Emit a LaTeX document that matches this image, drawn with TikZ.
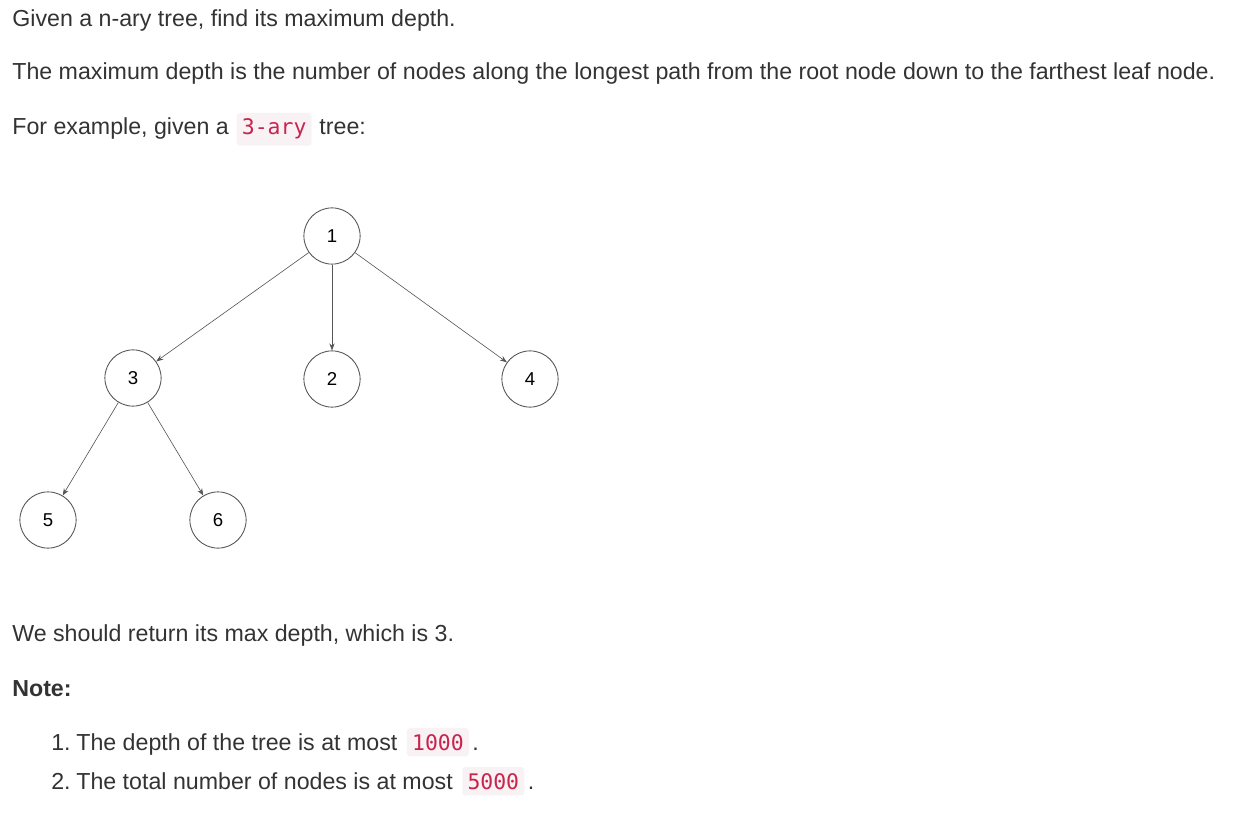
\documentclass[tikz,border=0pt]{standalone}
\usepackage{fontspec}
\setmainfont{Liberation Sans}
\setmonofont{DejaVu Sans Mono}
\usepackage{tikz}
\usetikzlibrary{arrows.meta,positioning}

\definecolor{textgray}{HTML}{333333}
\definecolor{codebg}{HTML}{F9F2F4}
\definecolor{codefg}{HTML}{C7254E}
\definecolor{ringgray}{HTML}{555555}

\newcommand{\bodyfont}{\fontsize{13.2}{15}\selectfont}
\newcommand{\codefont}{\fontsize{12.2}{14}\selectfont\ttfamily}

\tikzset{
  txt/.style={anchor=base west, inner sep=0pt, font=\bodyfont, text=textgray},
  code/.style={fill=codebg, text=codefg, font=\codefont,
    rounded corners=2pt, inner xsep=3pt, inner ysep=3.5pt},
  tnode/.style={circle, draw=ringgray, line width=0.5pt, fill=white,
    minimum size=32pt, inner sep=0pt, font=\fontsize{10.6}{12}\selectfont, text=black},
  edge/.style={draw=ringgray, line width=0.35pt, -{Stealth[length=4pt,width=3pt]}}
}

\begin{document}
\begin{tikzpicture}[x=0.02cm, y=-0.02cm]
  \useasboundingbox (0,0) rectangle (1240,817);
  % intro text
  \node[txt] (intro) at (12,27) {Given a n-ary tree, find its maximum depth.};
  \node[txt] (defn) at (12,80) {The maximum depth is the number of nodes along the longest path from the root node down to the farthest leaf node.};
  \node[txt] (forex) at (12,135) {For example, given a};
  \node[code, right=4pt of forex.base east, anchor=base west] (ary) {3-ary};
  \node[txt, right=4pt of ary.base east, anchor=base west] (treecolon) {tree:};
  % tree
  \node[tnode] (n1) at (332,236) {1};
  \node[tnode] (n3) at (133,378) {3};
  \node[tnode] (n2) at (332,379) {2};
  \node[tnode] (n4) at (530,379) {4};
  \node[tnode] (n5) at (48,520) {5};
  \node[tnode] (n6) at (218,520) {6};
  \draw[edge] (n1) -- (n3);
  \draw[edge] (n1) -- (n2);
  \draw[edge] (n1) -- (n4);
  \draw[edge] (n3) -- (n5);
  \draw[edge] (n3) -- (n6);
  % answer and notes
  \node[txt] (answer) at (12,641) {We should return its max depth, which is 3.};
  \node[txt, font=\bodyfont\bfseries] (note) at (12,696) {Note:};
  \node[txt] (num1) at (51,750) {1.};
  \node[txt] (item1) at (76,750) {The depth of the tree is at most};
  \node[code, right=5pt of item1.base east, anchor=base west] (k1000) {1000};
  \node[txt, right=1.5pt of k1000.base east, anchor=base west] (dot1) {.};
  \node[txt] (num2) at (51,789) {2.};
  \node[txt] (item2) at (76,789) {The total number of nodes is at most};
  \node[code, right=5pt of item2.base east, anchor=base west] (k5000) {5000};
  \node[txt, right=1.5pt of k5000.base east, anchor=base west] (dot2) {.};
\end{tikzpicture}
\end{document}
